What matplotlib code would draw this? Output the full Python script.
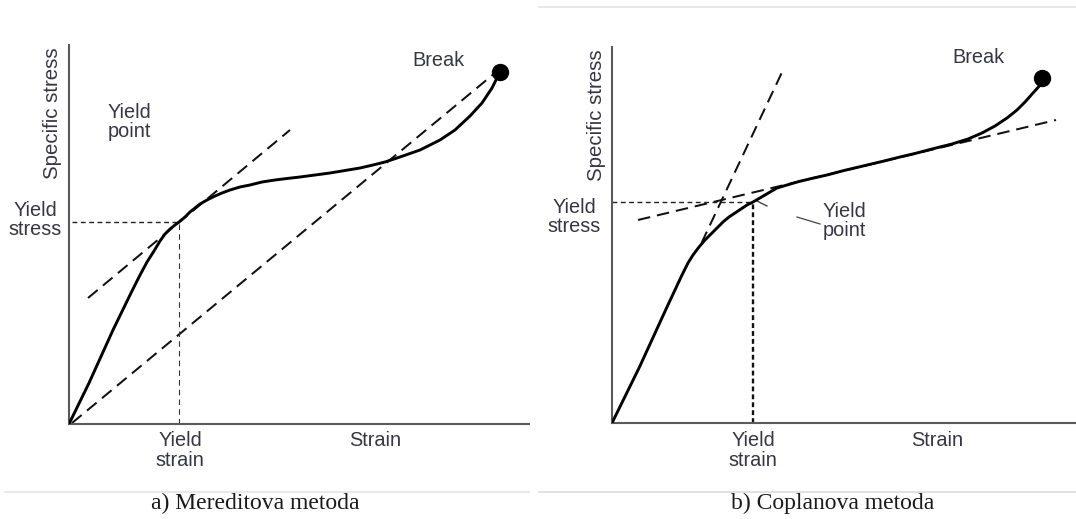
import matplotlib
matplotlib.use("Agg")
import matplotlib.pyplot as plt

plt.rcParams['lines.scale_dashes'] = False
plt.rcParams['font.family'] = ['Liberation Sans', 'DejaVu Sans']

W, H = 1076, 519

# ---------------- data (strain, stress) in schematic units ----------------
# Panel a) Meredith method
a_curve_strain = [0, 20, 44, 62, 70, 78, 85, 91, 96, 101, 106, 110, 116, 121, 126, 131, 138,
                  146, 153, 161, 171, 181, 193, 206, 218, 231, 246, 261, 276, 291, 304, 316,
                  331, 351, 371, 386, 401, 413, 423, 429]
a_curve_stress = [0, 41, 94, 131, 147, 162, 173, 183, 190, 195, 199, 202, 207, 212, 216, 220, 224,
                  228, 231, 234, 237, 239, 242, 244, 245.5, 247, 249, 251, 253.5, 256, 259, 262,
                  267, 274, 284, 294, 308, 321, 336, 348]
a_break = (431, 352)
a_tangent_strain = [19, 221]
a_tangent_stress = [126, 294]
a_secant_strain = [3, 426]
a_secant_stress = [1, 351]
a_yield_strain = 110
a_yield_stress = 202
a_xlim = (0, 460)
a_ylim = (0, 379)

# Panel b) Coplan method
b_curve_strain = [0, 27.5, 55, 70, 76, 81, 87, 93, 99, 105, 111, 117, 123, 129, 135, 141, 147,
                  153, 159, 165, 175, 187, 199.5, 215, 232, 251, 270, 290, 303, 320, 340,
                  356, 370, 383, 395, 405, 413, 421, 430]
b_curve_stress = [0, 56, 116, 148, 160, 168, 176, 183, 189, 195, 201, 206, 210, 214, 218, 221, 224.5,
                  228, 231.5, 235, 238, 241.5, 244.5, 248, 252.5, 257, 261.5, 266.5, 269.5, 274, 279,
                  284, 290, 297, 305, 313, 321, 330, 340]
b_break = (430, 345)
b_elastic_strain = [89.5, 172]
b_elastic_stress = [180, 355]
b_plastic_strain = [26, 444]
b_plastic_stress = [203, 303]
b_yield_strain = 141
b_yield_stress = 221
b_pointer1_strain = [145, 155]
b_pointer1_stress = [222, 217]
b_pointer2_strain = [185, 208]
b_pointer2_stress = [206, 199]
b_xlim = (0, 464)
b_ylim = (0, 376)

captions = ["a) Mereditova metoda", "b) Coplanova metoda"]

# ---------------- figure ----------------
fig = plt.figure(figsize=(W / 100, H / 100), dpi=100)
fig.patch.set_facecolor('white')

def make_ax(x0, y_axis, width, height):
    ax = fig.add_axes([x0 / W, (H - y_axis) / H, width / W, height / H])
    ax.set_facecolor('none')
    for s in ['top', 'right']:
        ax.spines[s].set_visible(False)
    for s in ['left', 'bottom']:
        ax.spines[s].set_color('#5a5a5a')
        ax.spines[s].set_linewidth(1.5)
    ax.set_xticks([])
    ax.set_yticks([])
    return ax

TXT = '#363644'
FS = 14.3
DASH = (0, (9, 5))
CURVE_LW = 2.1
DASH_LW = 1.45

axA = make_ax(69, 424, 460, 379)
axA.set_xlim(*a_xlim)
axA.set_ylim(*a_ylim)
axA.plot(a_curve_strain, a_curve_stress, color='black', lw=CURVE_LW, solid_capstyle='round',
         solid_joinstyle='round', zorder=3)
axA.plot(*a_break, 'o', color='black', ms=11.5, zorder=4, clip_on=False)
axA.plot(a_tangent_strain, a_tangent_stress, color='#111111', lw=DASH_LW, ls=DASH)
axA.plot(a_secant_strain, a_secant_stress, color='#111111', lw=DASH_LW, ls=DASH)
axA.plot([3, a_yield_strain], [a_yield_stress, a_yield_stress], color='#222222', lw=1.0, ls=(0, (3.5, 2.5)))
axA.plot([a_yield_strain, a_yield_strain], [0, a_yield_stress], color='#333333', lw=0.8, ls=(0, (4, 3)))

axA.text(-16, 311, "Specific stress", rotation=90, ha='center', va='center', fontsize=FS + 0.4, color=TXT, clip_on=False)
axA.text(369, 364, "Break", ha='center', va='center', fontsize=FS, color=TXT)
axA.text(39, 302, "Yield\npoint", ha='left', va='center', fontsize=FS, color=TXT, linespacing=1.05)
axA.text(-34, 204, "Yield\nstress", ha='center', va='center', fontsize=FS, color=TXT, linespacing=1.05, clip_on=False)
axA.text(a_yield_strain + 1, -7, "Yield\nstrain", ha='center', va='top', fontsize=FS, color=TXT, linespacing=1.05, clip_on=False)
axA.text(306, -7, "Strain", ha='center', va='top', fontsize=FS, color=TXT, clip_on=False)

axB = make_ax(612, 423, 464, 376)
axB.set_xlim(*b_xlim)
axB.set_ylim(*b_ylim)
axB.plot(b_curve_strain, b_curve_stress, color='black', lw=CURVE_LW, solid_capstyle='round',
         solid_joinstyle='round', zorder=3)
axB.plot(*b_break, 'o', color='black', ms=11.5, zorder=4, clip_on=False)
axB.plot(b_elastic_strain, b_elastic_stress, color='#111111', lw=DASH_LW, ls=DASH)
axB.plot(b_plastic_strain, b_plastic_stress, color='#111111', lw=DASH_LW, ls=DASH)
axB.plot([0, b_yield_strain], [b_yield_stress, b_yield_stress], color='#222222', lw=1.0, ls=(0, (3.5, 2.5)))
axB.plot([b_yield_strain, b_yield_strain], [0, b_yield_stress], color='#111111', lw=1.7, ls=(0, (3.5, 2.2)))
axB.plot(b_pointer1_strain, b_pointer1_stress, color='#333333', lw=0.9)
axB.plot(b_pointer2_strain, b_pointer2_stress, color='#444444', lw=0.9)

axB.text(-15.5, 308, "Specific stress", rotation=90, ha='center', va='center', fontsize=FS + 0.4, color=TXT, clip_on=False)
axB.text(366.5, 365, "Break", ha='center', va='center', fontsize=FS, color=TXT)
axB.text(211, 202, "Yield\npoint", ha='left', va='center', fontsize=FS, color=TXT, linespacing=1.05)
axB.text(-37.5, 206, "Yield\nstress", ha='center', va='center', fontsize=FS, color=TXT, linespacing=1.05, clip_on=False)
axB.text(b_yield_strain, -8, "Yield\nstrain", ha='center', va='top', fontsize=FS, color=TXT, linespacing=1.05, clip_on=False)
axB.text(325, -8, "Strain", ha='center', va='top', fontsize=FS, color=TXT, clip_on=False)

# page decorations (thin rules) and captions
ov = fig.add_axes([0, 0, 1, 1])
ov.set_xlim(0, W)
ov.set_ylim(H, 0)
ov.axis('off')
ov.set_zorder(-1)
ov.plot([539, W], [7, 7], color='#e4e4e4', lw=1.2)
ov.plot([5, 529], [492, 492], color='#e4e4e4', lw=1.2)
ov.plot([539, W], [492, 492], color='#dcdcdc', lw=1.2)
ov.text(255, 503, captions[0], ha='center', va='center', fontsize=17, color='#1a1a1a', family='Liberation Serif')
ov.text(833, 503, captions[1], ha='center', va='center', fontsize=17, color='#1a1a1a', family='Liberation Serif')

fig.savefig('out.png', dpi=100, facecolor='white')
